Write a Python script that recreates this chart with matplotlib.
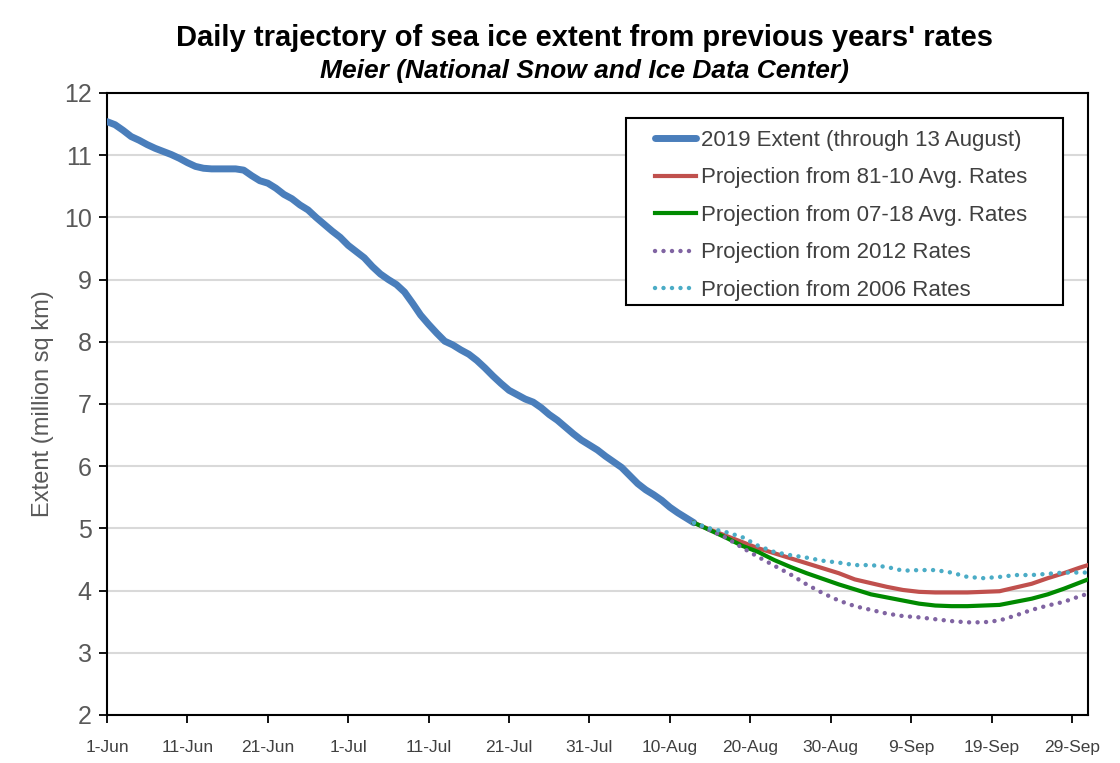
import matplotlib
matplotlib.use('Agg')
import matplotlib.pyplot as plt
from matplotlib.patches import Rectangle

# days counted from 1-Jun (day 0)
ext_days = list(range(0, 74))
ext_2019 = [11.54, 11.49, 11.40, 11.30, 11.24, 11.17, 11.11, 11.06, 11.01, 10.95,
            10.88, 10.82, 10.79, 10.78, 10.78, 10.78, 10.78, 10.76, 10.67, 10.59,
            10.55, 10.47, 10.37, 10.30, 10.20, 10.12, 10.00, 9.89, 9.78, 9.68,
            9.55, 9.45, 9.35, 9.21, 9.09, 9.00, 8.92, 8.80, 8.62, 8.43,
            8.28, 8.14, 8.01, 7.95, 7.87, 7.80, 7.70, 7.58, 7.45, 7.33,
            7.22, 7.15, 7.08, 7.03, 6.94, 6.83, 6.74, 6.63, 6.52, 6.42,
            6.34, 6.26, 6.16, 6.07, 5.98, 5.85, 5.72, 5.62, 5.54, 5.45,
            5.34, 5.25, 5.17, 5.09]

proj_days = list(range(73, 122, 2)) + [122]
proj_8110 = [5.09, 4.98, 4.88, 4.78, 4.68, 4.60, 4.52, 4.44, 4.36, 4.28,
             4.18, 4.12, 4.06, 4.01, 3.98, 3.97, 3.97, 3.97, 3.98, 3.99,
             4.05, 4.11, 4.20, 4.28, 4.37, 4.41]
proj_0718 = [5.09, 4.97, 4.85, 4.72, 4.62, 4.49, 4.38, 4.28, 4.19, 4.10,
             4.02, 3.94, 3.89, 3.84, 3.79, 3.76, 3.75, 3.75, 3.76, 3.77,
             3.82, 3.87, 3.94, 4.03, 4.13, 4.18]
proj_2012 = [5.09, 4.97, 4.85, 4.69, 4.54, 4.40, 4.26, 4.10, 3.96, 3.84,
             3.75, 3.69, 3.63, 3.59, 3.57, 3.54, 3.51, 3.49, 3.49, 3.52,
             3.60, 3.69, 3.76, 3.82, 3.91, 3.95]
proj_2006 = [5.09, 5.00, 4.94, 4.86, 4.72, 4.62, 4.57, 4.53, 4.48, 4.45,
             4.41, 4.41, 4.38, 4.32, 4.33, 4.33, 4.29, 4.22, 4.20, 4.22,
             4.25, 4.25, 4.27, 4.29, 4.29, 4.29]

tick_days = list(range(0, 121, 10))
tick_labels = ['1-Jun', '11-Jun', '21-Jun', '1-Jul', '11-Jul', '21-Jul', '31-Jul',
               '10-Aug', '20-Aug', '30-Aug', '9-Sep', '19-Sep', '29-Sep']

plt.rcParams['font.family'] = ['Liberation Sans', 'DejaVu Sans']

W, H = 1120, 763
fig = plt.figure(figsize=(W/100, H/100), dpi=100)
ax = fig.add_axes([107/W, 1-715/H, (1088-107)/W, (715-93)/H])

dots = (0, (0.01, 1.9))
ax.plot(ext_days, ext_2019, color='#4a7ebb', lw=5, solid_capstyle='round',
        label='2019 Extent (through 13 August)', zorder=3)
ax.plot(proj_days, proj_8110, color='#c0504d', lw=3,
        label='Projection from 81-10 Avg. Rates', zorder=4)
ax.plot(proj_days, proj_0718, color='#008a00', lw=3,
        label='Projection from 07-18 Avg. Rates', zorder=4)
ax.plot(proj_days, proj_2012, color='#8064a2', lw=3.2, linestyle=dots,
        dash_capstyle='round', label='Projection from 2012 Rates', zorder=4)
ax.plot(proj_days, proj_2006, color='#4bacc6', lw=3.2, linestyle=dots,
        dash_capstyle='round', label='Projection from 2006 Rates', zorder=4)

ax.set_xlim(0, 122)
ax.set_ylim(2, 12)
ax.set_yticks(range(2, 13))
ax.set_xticks(tick_days)
ax.set_xticklabels(tick_labels, fontsize=12.5, color='#404040')
ax.tick_params(axis='y', labelsize=18, labelcolor='#595959', length=6, width=1.3,
               direction='out', pad=5, color='black')
ax.tick_params(axis='x', length=6, width=1.3, direction='out', pad=12, color='black')
ax.grid(axis='y', color='#d9d9d9', lw=1.5)
ax.set_axisbelow(True)
for s in ax.spines.values():
    s.set_linewidth(1.5)
    s.set_color('black')

ax.set_ylabel('Extent (million sq km)', fontsize=17, color='#595959')
ax.yaxis.set_label_coords(-0.054, 0.5)

fig.text(0.522, 1-38/H, "Daily trajectory of sea ice extent from previous years' rates",
         ha='center', va='center', fontsize=21, fontweight='bold')
fig.text(0.522, 1-71/H, 'Meier (National Snow and Ice Data Center)',
         ha='center', va='center', fontsize=19, fontweight='bold', style='italic')

# legend box drawn separately (wider side padding than matplotlib's)
box = Rectangle((626/W, 1-305/H), (1063-626)/W, (305-118)/H, transform=fig.transFigure,
                facecolor='white', edgecolor='black', lw=1.5, zorder=5, clip_on=False)
ax.add_patch(box)
leg = ax.legend(loc='upper left', bbox_to_anchor=(655/W, 1-130/H),
                bbox_transform=fig.transFigure, fontsize=16, handlelength=1.85,
                handletextpad=0.2, labelspacing=0.74, borderpad=0,
                borderaxespad=0, frameon=False)
leg.set_zorder(6)
for t in leg.get_texts():
    t.set_color('#404040')

fig.savefig('out.png', dpi=100)
